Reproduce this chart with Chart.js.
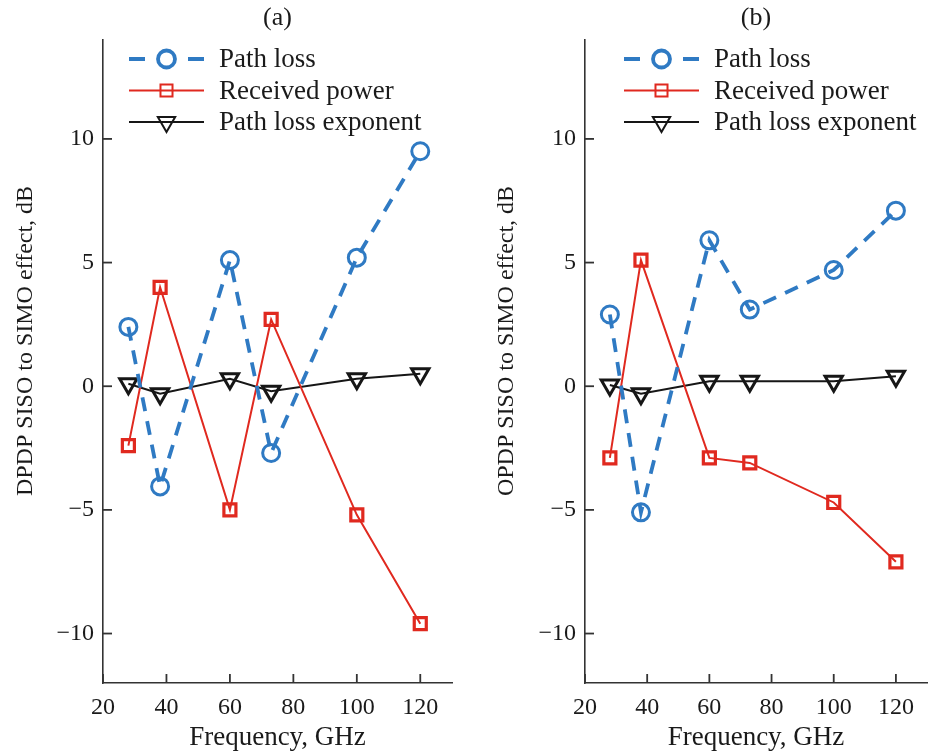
<!DOCTYPE html>
<html>
<head>
<meta charset="utf-8">
<script src="https://cdn.jsdelivr.net/npm/chart.js@4"></script>
<style>
  html, body { margin: 0; padding: 0; background: #fff; overflow: hidden; }
  #wrap { position: relative; width: 930px; height: 755px; overflow: hidden; }
  canvas { position: absolute; top: 0; }
  #plotA { left: 0; }
  #plotB { left: 465px; }
</style>
</head>
<body>
<div id="wrap">
  <canvas id="plotA" width="465" height="755"></canvas>
  <canvas id="plotB" width="475" height="755"></canvas>
</div>
<script>
// frequencies used in both panels
const freqs = [28, 38, 60, 73, 100, 120];

// panel (a): DPDP
const pathLossA = [2.4, -4.05, 5.1, -2.7, 5.2, 9.5];
const rxPowerA = [-2.4, 4.0, -5.0, 2.7, -5.2, -9.6];
const pleA = [0.1, -0.3, 0.3, -0.2, 0.3, 0.5];

// panel (b): OPDP
const pathLossB = [2.9, -5.1, 5.9, 3.1, 4.7, 7.1];
const rxPowerB = [-2.9, 5.1, -2.9, -3.1, -4.7, -7.1];
const pleB = [0.05, -0.3, 0.2, 0.2, 0.2, 0.4];

const seriesNames = ['Path loss', 'Received power', 'Path loss exponent'];
const xTicks = [20, 40, 60, 80, 100, 120];
const yTicks = [-10, -5, 0, 5, 10];

const SERIF = '"Liberation Serif", "Times New Roman", serif';
const BLUE = '#2f7ac3';
const RED = '#e0291f';
const BLACK = '#161616';
const AXIS = '#333333';
const TEXT = '#1a1a1a';

function pts(ys) {
  return freqs.map((f, i) => ({ x: f, y: ys[i] }));
}

// inward tick marks, heading and the rotated y title
const decor = {
  id: 'decor',
  afterDraw(chart, args, opts) {
    const ctx = chart.ctx;
    const xs = chart.scales.x, ys = chart.scales.y;
    const left = ys.right, bottom = xs.top;
    ctx.save();
    ctx.setLineDash([]);
    ctx.strokeStyle = AXIS;
    ctx.lineWidth = 1.8;
    xTicks.forEach(v => {
      const px = xs.getPixelForValue(v);
      ctx.beginPath();
      ctx.moveTo(px, bottom);
      ctx.lineTo(px, bottom - 9);
      ctx.stroke();
    });
    yTicks.forEach(v => {
      const py = ys.getPixelForValue(v);
      ctx.beginPath();
      ctx.moveTo(left, py);
      ctx.lineTo(left + 9, py);
      ctx.stroke();
    });

    const mid = (chart.chartArea.left + chart.chartArea.right) / 2;
    ctx.fillStyle = TEXT;
    ctx.textAlign = 'center';
    ctx.textBaseline = 'middle';
    ctx.font = '26px ' + SERIF;
    ctx.fillText(opts.heading, mid, 18);

    ctx.translate(opts.titleX, 341);
    ctx.rotate(-Math.PI / 2);
    ctx.font = '24px ' + SERIF;
    ctx.fillText(opts.yTitle, 0, 0);
    ctx.restore();
  }
};

// legend with line sample and marker, drawn inside the plot area
const lineLegend = {
  id: 'lineLegend',
  afterDraw(chart, args, opts) {
    const ctx = chart.ctx;
    ctx.save();
    chart.data.datasets.forEach((ds, i) => {
      const y = opts.y + i * 31.5;
      const x0 = opts.x, x1 = opts.x + 75;
      ctx.strokeStyle = ds.borderColor;
      ctx.lineWidth = ds.borderWidth;
      ctx.beginPath();
      if (ds.borderDash) {
        ctx.moveTo(x0, y); ctx.lineTo(x0 + 16, y);
        ctx.moveTo(x1 - 16, y); ctx.lineTo(x1, y);
      } else {
        ctx.moveTo(x0, y); ctx.lineTo(x1, y);
      }
      ctx.stroke();
      ctx.fillStyle = 'rgba(0,0,0,0)';
      ctx.strokeStyle = ds.pointBorderColor;
      Chart.helpers.drawPoint(ctx, {
        pointStyle: ds.pointStyle,
        radius: ds.pointRadius,
        rotation: ds.pointRotation || 0,
        borderWidth: ds.pointBorderWidth
      }, (x0 + x1) / 2, y);
      ctx.fillStyle = TEXT;
      ctx.font = '27px ' + SERIF;
      ctx.textAlign = 'left';
      ctx.textBaseline = 'middle';
      ctx.fillText(seriesNames[i], x1 + 15, y + 1);
    });
    ctx.restore();
  }
};

function makeChart(id, heading, yTitle, pl, rx, ple, yAxisWidth, titleX, legendX) {
  return new Chart(document.getElementById(id), {
    type: 'line',
    data: {
      datasets: [
        {
          label: seriesNames[0], data: pts(pl),
          borderColor: BLUE, borderWidth: 3.8, borderDash: [14, 10],
          pointStyle: 'circle', pointRadius: 8.5, pointBorderWidth: 3,
          pointBorderColor: BLUE, pointBackgroundColor: 'rgba(0,0,0,0)'
        },
        {
          label: seriesNames[1], data: pts(rx),
          borderColor: RED, borderWidth: 2,
          pointStyle: 'rect', pointRadius: 8.5, pointBorderWidth: 3.2,
          pointBorderColor: RED, pointBackgroundColor: 'rgba(0,0,0,0)'
        },
        {
          label: seriesNames[2], data: pts(ple),
          borderColor: BLACK, borderWidth: 2,
          pointStyle: 'triangle', pointRotation: 180, pointRadius: 10, pointBorderWidth: 3,
          pointBorderColor: BLACK, pointBackgroundColor: 'rgba(0,0,0,0)'
        }
      ]
    },
    options: {
      responsive: false,
      animation: false,
      layout: { padding: { top: 40, right: 0, bottom: 0, left: 0 } },
      elements: { line: { tension: 0 } },
      plugins: {
        legend: { display: false },
        tooltip: { enabled: false },
        decor: { heading: heading, yTitle: yTitle, titleX: titleX },
        lineLegend: { x: legendX, y: 59 }
      },
      scales: {
        x: {
          type: 'linear', min: 20, max: 130,
          grid: { display: false, drawTicks: false },
          border: { display: true, color: AXIS, width: 1.6 },
          afterBuildTicks: s => { s.ticks = xTicks.map(v => ({ value: v })); },
          afterFit: s => { s.height = 72; },
          ticks: { padding: 10, color: TEXT, font: { family: SERIF, size: 24 } },
          title: {
            display: true, text: 'Frequency, GHz', color: TEXT,
            font: { family: SERIF, size: 27 }, padding: { top: 0, bottom: 1 }
          }
        },
        y: {
          type: 'linear', min: -12, max: 14,
          grid: { display: false, drawTicks: false },
          border: { display: true, color: AXIS, width: 1.6 },
          afterBuildTicks: s => { s.ticks = yTicks.map(v => ({ value: v })); },
          afterFit: s => { s.width = yAxisWidth; },
          ticks: {
            padding: 9, color: TEXT, font: { family: SERIF, size: 24 },
            callback: v => String(v).replace('-', '\u2212')
          }
        }
      }
    },
    plugins: [decor, lineLegend]
  });
}

makeChart('plotA', '(a)', 'DPDP SISO to SIMO effect, dB', pathLossA, rxPowerA, pleA, 103, 26, 129);
makeChart('plotB', '(b)', 'OPDP SISO to SIMO effect, dB', pathLossB, rxPowerB, pleB, 120, 42, 159);
</script>
</body>
</html>
